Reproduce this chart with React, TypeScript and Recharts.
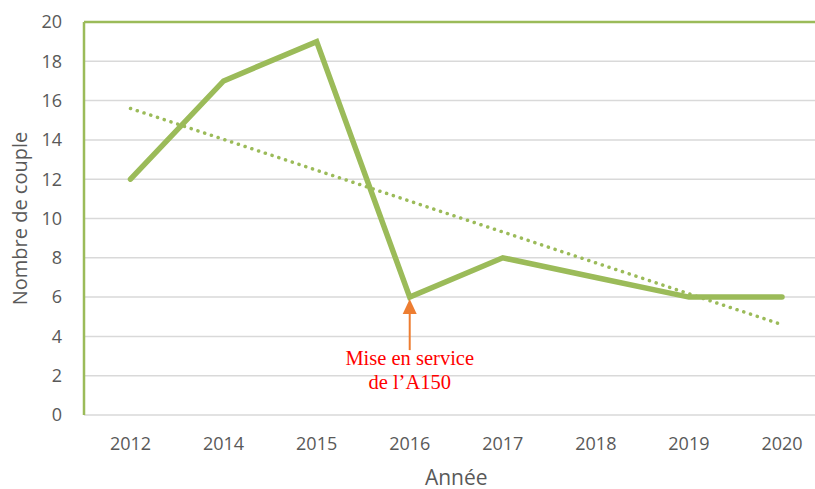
import React from 'react';
import {
  LineChart, Line, XAxis, YAxis, CartesianGrid, ReferenceLine, ReferenceDot,
} from 'recharts';

// Années (catégories de l'axe X)
const years = ['2012', '2014', '2015', '2016', '2017', '2018', '2019', '2020'];
// Nombre de couples par année
const couples = [12, 17, 19, 6, 8, 7, 6, 6];
// Courbe de tendance linéaire : valeurs lues aux deux extrémités
const trendStart = 15.6;
const trendEnd = 4.6;
// Graduations de l'axe Y
const yTicks = [0, 2, 4, 6, 8, 10, 12, 14, 16, 18, 20];

const data = years.map((year, i) => ({ year, value: couples[i] }));

const GREEN = '#9BBB59';
const GRID = '#D9D9D9';
const TEXT = '#595959';
const FONT = '"Open Sans", sans-serif';

// Flèche + texte d'annotation sous le point de 2016
const Annotation = (props: any) => {
  const { cx, cy } = props;
  if (cx == null || cy == null) return null;
  const tip = cy + 2;
  return (
    <g>
      <line x1={cx} y1={tip + 12} x2={cx} y2={cy + 53} stroke="#ED7D31" strokeWidth={2} />
      <path d={`M${cx},${tip} L${cx - 7},${tip + 15} L${cx + 7},${tip + 15} Z`} fill="#ED7D31" />
      <text
        x={cx}
        textAnchor="middle"
        fill="#FF0000"
        fontFamily='"Liberation Serif", "Times New Roman", serif'
        fontSize={20.5}
      >
        <tspan x={cx} y={cy + 68}>Mise en service</tspan>
        <tspan x={cx} y={cy + 92}>de l’A150</tspan>
      </text>
    </g>
  );
};

export default function App() {
  return (
    <div style={{ position: 'absolute', left: 0, top: 0, width: 815, height: 489, overflow: 'hidden', background: '#fff' }}>
      <LineChart
        width={840}
        height={489}
        data={data}
        margin={{ top: 22, right: 11.5, left: 0, bottom: 0 }}
      >
        <CartesianGrid vertical={false} stroke={GRID} strokeWidth={1.5} />
        <XAxis
          dataKey="year"
          height={74}
          padding={{ left: 46.5, right: 46.5 }}
          axisLine={false}
          tickLine={false}
          tickMargin={16}
          tick={{ fill: TEXT, fontSize: 18, fontFamily: FONT }}
          label={{
            value: 'Année',
            position: 'insideBottom',
            offset: 4,
            fill: TEXT,
            fontSize: 21,
            fontFamily: FONT,
          }}
        />
        <YAxis
          width={84}
          domain={[0, 20]}
          ticks={yTicks}
          interval={0}
          axisLine={{ stroke: GREEN, strokeWidth: 2.5 }}
          tickLine={false}
          tickMargin={16}
          tick={{ fill: TEXT, fontSize: 18, fontFamily: FONT }}
          label={{
            value: 'Nombre de couple',
            angle: -90,
            position: 'center',
            dx: -22,
            fill: TEXT,
            fontSize: 20,
            fontFamily: FONT,
          }}
        />
        <ReferenceLine y={20} stroke={GREEN} strokeWidth={2.5} />
        <ReferenceLine
          segment={[{ x: years[0], y: trendStart }, { x: years[years.length - 1], y: trendEnd }]}
          stroke={GREEN}
          strokeWidth={3.5}
          strokeDasharray="0.1 7"
          strokeLinecap="round"
        />
        <Line
          type="linear"
          dataKey="value"
          stroke={GREEN}
          strokeWidth={5.5}
          strokeLinecap="round"
          strokeLinejoin="miter"
          dot={false}
          activeDot={false}
          isAnimationActive={false}
        />
        <ReferenceDot x="2016" y={6} r={0} shape={Annotation} />
      </LineChart>
    </div>
  );
}
